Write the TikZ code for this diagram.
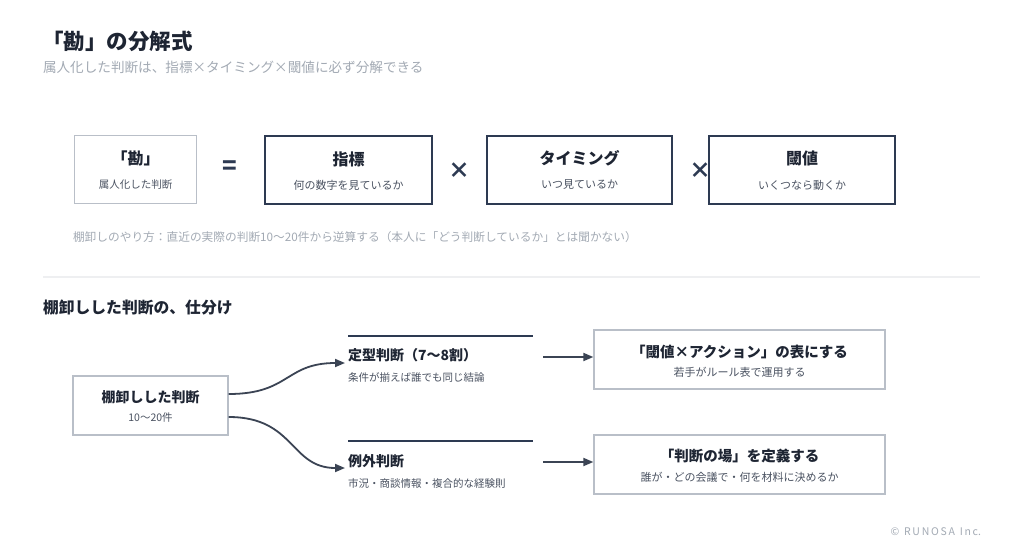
\documentclass[tikz,border=0pt]{standalone}
\usepackage{fontspec}
\setmainfont{Noto Sans CJK JP}
\usetikzlibrary{arrows.meta,calc}
\definecolor{ink}{HTML}{1E2533}
\definecolor{darkb}{HTML}{2D3A52}
\definecolor{midt}{HTML}{4A5261}
\definecolor{lightt}{HTML}{A3AAB4}
\definecolor{grayb}{HTML}{B9BFC8}
\definecolor{sepc}{HTML}{EEEFF1}
\definecolor{arr}{HTML}{3B4454}
\newcommand{\fsz}[1]{\fontsize{#1}{#1}\selectfont}
\tikzset{
  txt/.style={inner sep=0pt, outer sep=0pt},
  grayboxs/.style={draw=grayb, line width=1.3pt, fill=white, inner sep=0pt},
  darkboxs/.style={draw=darkb, line width=2pt, fill=white, inner sep=0pt},
  bt/.style={txt, text=ink, font=\fsz{16}\bfseries},
  st/.style={txt, text=midt, font=\fsz{11}},
  lt/.style={txt, text=lightt},
  conn/.style={draw=arr, line width=1.8pt, -{Triangle[length=10pt,width=8pt]}},
  opsym/.style={txt, text=darkb},
  barline/.style={draw=darkb, line width=2.6pt}
}
\begin{document}
\begin{tikzpicture}[x=1pt,y=-1pt]
\useasboundingbox[fill=white] (0,0) rectangle (1024,555);
% header
\node[txt, anchor=west, text=ink, font=\fsz{21.5}\bfseries] (title) at (42,41) {「勘」の分解式};
\node[lt, anchor=west, font=\fsz{13.6}] (subtitle) at (43,67) {属人化した判断は、指標×タイミング×閾値に必ず分解できる};
% boxes row
\node[grayboxs, minimum width=122pt, minimum height=68pt] (kan) at (135.5,169.5) {};
\node[bt] (kant) at (135.5,158) {「勘」};
\node[st, font=\fsz{10.5}] (kans) at (135.5,184.5) {属人化した判断};
\node[opsym, font=\fsz{24}\bfseries] (eq) at (230,168) {=};
\node[darkboxs, minimum width=167pt, minimum height=68pt] (b2) at (348.5,169.5) {};
\node[bt] (b2t) at (348.5,159) {指標};
\node[st] (b2s) at (348.5,185) {何の数字を見ているか};
\node[opsym, font=\fsz{22}\bfseries] (x1) at (459,171) {×};
\node[darkboxs, minimum width=185pt, minimum height=68pt] (b3) at (579.5,169.5) {};
\node[bt] (b3t) at (579.5,158.5) {タイミング};
\node[st] (b3s) at (579.5,185) {いつ見ているか};
\node[opsym, font=\fsz{22}\bfseries] (x2) at (700,171) {×};
\node[darkboxs, minimum width=186pt, minimum height=68pt] (b4) at (802,169.5) {};
\node[bt] (b4t) at (802,158.5) {閾値};
\node[st] (b4s) at (802,185) {いくつなら動くか};
\node[lt, anchor=west, font=\fsz{11.7}] (note) at (73,237) {棚卸しのやり方：直近の実際の判断10〜20件から逆算する（本人に「どう判断しているか」とは聞かない）};
% separator
\coordinate (sepL) at (43,277);
\coordinate (sepR) at (980,277);
\draw[sepc, line width=1.2pt] (sepL) -- (sepR);
% section 2
\node[txt, anchor=west, text=ink, font=\fsz{15.8}\bfseries] (sec) at (43,308) {棚卸しした判断の、仕分け};
\node[grayboxs, minimum width=155pt, minimum height=59pt] (src) at (150.5,405.5) {};
\node[txt, text=ink, font=\fsz{14}\bfseries] (srct) at (150.5,397) {棚卸しした判断};
\node[st, font=\fsz{10.5}] (srcs) at (150.5,418) {10〜20件};
% upper branch
\coordinate (l1a) at (348,336);
\coordinate (l1b) at (533,336);
\draw[barline] (l1a) -- (l1b);
\node[txt, anchor=west, text=ink, font=\fsz{14}\bfseries] (t1) at (348,355.5) {定型判断（7〜8割）};
\node[st, anchor=west, font=\fsz{10.5}] (s1) at (348,377) {条件が揃えば誰でも同じ結論};
\coordinate (c1) at (345,363);
\draw[conn] ([yshift=11.5pt]src.east) .. controls (290,394) and (285,363) .. (c1);
\node[grayboxs, minimum width=291pt, minimum height=59pt] (r1) at (739.5,359.5) {};
\node[txt, text=ink, font=\fsz{14.5}\bfseries] (r1t) at (739.5,351.5) {「閾値×アクション」の表にする};
\node[st] (r1s) at (739.5,372.5) {若手がルール表で運用する};
\coordinate (a1) at (543,357);
\draw[conn] (a1) -- (a1 -| r1.west);
% lower branch
\coordinate (l2a) at (348,441);
\coordinate (l2b) at (533,441);
\draw[barline] (l2a) -- (l2b);
\node[txt, anchor=west, text=ink, font=\fsz{14}\bfseries] (t2) at (348,461.5) {例外判断};
\node[st, anchor=west, font=\fsz{10.5}] (s2) at (348,483) {市況・商談情報・複合的な経験則};
\coordinate (c2) at (345,468);
\draw[conn] ([yshift=-11.5pt]src.east) .. controls (295,417) and (290,468) .. (c2);
\node[grayboxs, minimum width=291pt, minimum height=59pt] (r2) at (739.5,464.5) {};
\node[txt, text=ink, font=\fsz{14.5}\bfseries] (r2t) at (739.5,456) {「判断の場」を定義する};
\node[st] (r2s) at (739.5,477) {誰が・どの会議で・何を材料に決めるか};
\coordinate (a2) at (543,462);
\draw[conn] (a2) -- (a2 -| r2.west);
% footer
\node[lt, anchor=east, font=\fsz{10.5}] (copy) at (981,532) {©\ \ R\,U\,N\,O\,S\,A\ \ I\,n\,c.};
\end{tikzpicture}
\end{document}
